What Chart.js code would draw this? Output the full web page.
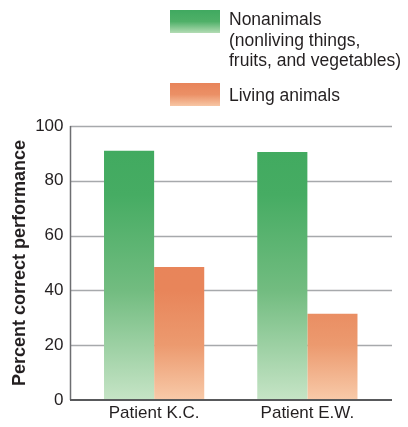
<!DOCTYPE html>
<html>
<head>
<meta charset="utf-8">
<script src="https://cdn.jsdelivr.net/npm/chart.js@4.4.1/dist/chart.umd.min.js"></script>
<style>
  html, body { margin: 0; padding: 0; background: #fff; }
  #wrap { position: relative; width: 408px; height: 427px; }
  #legend { position: absolute; left: 0; top: 0; font-family: "Liberation Sans", Arial, sans-serif; font-size: 17.5px; color: #231f20; line-height: 20.5px; }
  .sw { position: absolute; width: 50px; height: 23px; }
  .lbl { position: absolute; left: 229px; white-space: nowrap; }
</style>
</head>
<body>
<div id="wrap">
  <canvas id="perf" width="408" height="427"></canvas>
  <div id="legend">
    <div class="sw" style="left:170px;top:10px;background:linear-gradient(#40a960,#4fb068 50%,#b3dcb4)"></div>
    <div class="lbl" style="top:9px">Nonanimals<br>(nonliving things,<br>fruits, and vegetables)</div>
    <div class="sw" style="left:170px;top:83px;background:linear-gradient(#e8845a,#eb9066 50%,#f7c6a4)"></div>
    <div class="lbl" style="top:85px">Living animals</div>
  </div>
</div>
<script>
const patients = ["Patient K.C.", "Patient E.W."];
const nonanimals = [91, 90.5];
const livingAnimals = [48.5, 31.5];
const yTicks = [0, 20, 40, 60, 80, 100];

const font = "'Liberation Sans', Arial, sans-serif";

// vertical fade shared by all bars of a series, based on the plot height
function fade(stops) {
  return (ctx) => {
    const area = ctx.chart.chartArea;
    if (!area) return stops[0][1];
    const g = ctx.chart.ctx.createLinearGradient(0, area.top, 0, area.bottom);
    stops.forEach(s => g.addColorStop(s[0], s[1]));
    return g;
  };
}

// frame and grid lines, a bit wider than the bar area
const frame = {
  id: 'frame',
  beforeDatasetsDraw(chart) {
    const c = chart.ctx, y = chart.scales.y;
    const x0 = 70, x1 = 392;
    c.save();
    c.strokeStyle = '#a7a9ac';
    c.lineWidth = 1.5;
    yTicks.slice(1).forEach(v => {
      const py = Math.round(y.getPixelForValue(v)) + 0.5;
      c.beginPath(); c.moveTo(x0, py); c.lineTo(x1, py); c.stroke();
    });
    c.strokeStyle = '#6d6e71';
    c.lineWidth = 1.5;
    c.beginPath();
    c.moveTo(x0 + 0.5, y.getPixelForValue(100));
    c.lineTo(x0 + 0.5, y.getPixelForValue(0));
    c.stroke();
    c.restore();
  },
  afterDatasetsDraw(chart) {
    const c = chart.ctx, y = chart.scales.y;
    const py = y.getPixelForValue(0);
    c.save();
    c.strokeStyle = '#58595b';
    c.lineWidth = 2;
    c.beginPath(); c.moveTo(70, py); c.lineTo(392, py); c.stroke();
    c.restore();
  }
};

new Chart(document.getElementById("perf"), {
  type: 'bar',
  data: {
    labels: patients,
    datasets: [
      { label: 'Nonanimals', data: nonanimals,
        backgroundColor: fade([[0, '#3fa95e'], [0.25, '#46ac63'], [0.6, '#72bc80'], [1, '#c6e4c6']]) },
      { label: 'Living animals', data: livingAnimals,
        backgroundColor: fade([[0, '#e8845a'], [0.6, '#e8855a'], [0.8, '#ec9a6f'], [1, '#f8caa9']]) }
    ]
  },
  options: {
    responsive: false,
    animation: false,
    layout: { padding: { top: 126, left: 8, right: 24, bottom: 0 } },
    categoryPercentage: 0.654,
    barPercentage: 1,
    plugins: { legend: { display: false }, tooltip: { enabled: false } },
    scales: {
      x: {
        grid: { display: false, drawTicks: false },
        border: { display: false },
        ticks: { color: '#231f20', font: { family: font, size: 17 }, padding: 3 },
        afterFit(s) { s.height = 27; }
      },
      y: {
        min: 0, max: 100,
        grid: { display: false, drawTicks: false },
        border: { display: false },
        ticks: { stepSize: 20, color: '#231f20', font: { family: font, size: 17 }, padding: 14 },
        title: { display: true, text: 'Percent correct performance', color: '#231f20',
                 font: { family: font, size: 18, weight: 'bold' }, padding: { top: 1, bottom: 0 } },
        afterFit(s) { s.width = 69.5; }
      }
    }
  },
  plugins: [frame]
});
</script>
</body>
</html>
